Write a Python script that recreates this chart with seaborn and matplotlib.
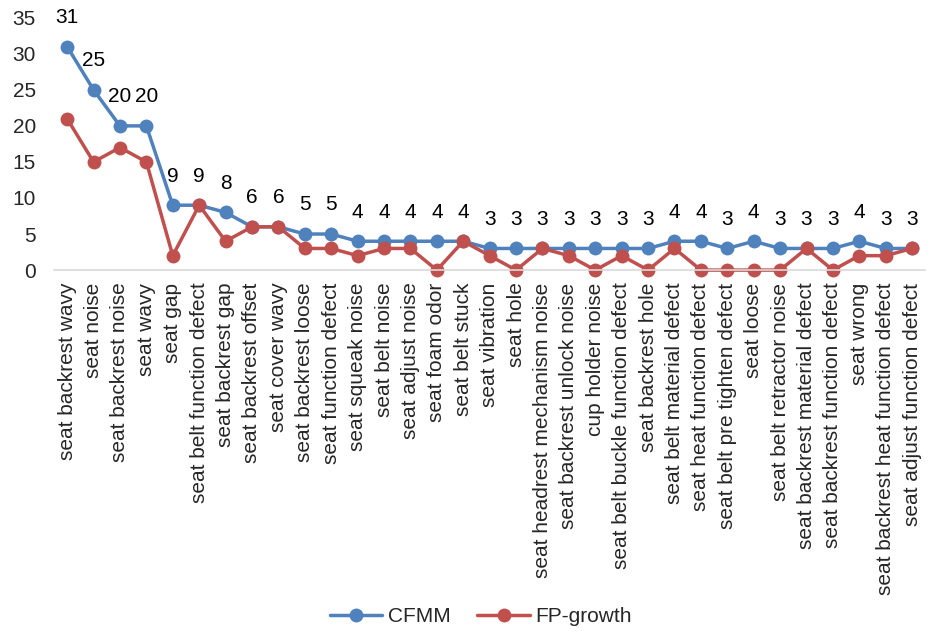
import matplotlib
matplotlib.use("Agg")
import matplotlib.pyplot as plt
import seaborn as sns
import pandas as pd

categories = [
    "seat backrest wavy", "seat noise", "seat backrest noise", "seat wavy",
    "seat gap", "seat belt function defect", "seat backrest gap",
    "seat backrest offset", "seat cover wavy", "seat backrest loose",
    "seat function defect", "seat squeak noise", "seat belt noise",
    "seat adjust noise", "seat foam odor", "seat belt stuck",
    "seat vibration", "seat hole", "seat headrest mechanism noise",
    "seat backrest unlock noise", "cup holder noise",
    "seat belt buckle function defect", "seat backrest hole",
    "seat belt material defect", "seat heat function defect",
    "seat belt pre tighten defect", "seat loose", "seat belt retractor noise",
    "seat backrest material defect", "seat backrest function defect",
    "seat wrong", "seat backrest heat function defect",
    "seat adjust function defect",
]
cfmm = [31, 25, 20, 20, 9, 9, 8, 6, 6, 5, 5, 4, 4, 4, 4, 4, 3, 3, 3, 3, 3,
        3, 3, 4, 4, 3, 4, 3, 3, 3, 4, 3, 3]
fp_growth = [21, 15, 17, 15, 2, 9, 4, 6, 6, 3, 3, 2, 3, 3, 0, 4, 2, 0, 3, 2,
             0, 2, 0, 3, 0, 0, 0, 0, 3, 0, 2, 2, 3]
series_names = ["CFMM", "FP-growth"]
y_ticks = [0, 5, 10, 15, 20, 25, 30, 35]

sns.set_theme(style="white")
plt.rcParams["font.family"] = ["Liberation Sans", "DejaVu Sans"]
FS = 15

df = pd.DataFrame({"category": categories * 2,
                   "value": cfmm + fp_growth,
                   "series": [series_names[0]] * len(categories)
                   + [series_names[1]] * len(categories)})
df["category"] = pd.Categorical(df["category"], categories=categories, ordered=True)
df["pos"] = df["category"].cat.codes

fig = plt.figure(figsize=(9.3, 6.34), dpi=100)
ax = fig.add_axes([0.058, 0.574, 0.937, 0.398])

palette = {"CFMM": "#4F81BD", "FP-growth": "#C0504D"}
sns.lineplot(data=df, x="pos", y="value", hue="series", hue_order=series_names,
             palette=palette, marker="o", markersize=10, markeredgewidth=0,
             linewidth=2.5, ax=ax, legend=True)

# value labels above the CFMM line
for i, v in enumerate(cfmm):
    ax.annotate(str(v), (i, v), xytext=(0, 21), textcoords="offset points",
                ha="center", va="center", fontsize=FS, color="black")

ax.set_xlim(-0.5, len(categories) - 0.5)
ax.set_ylim(0, 35)
ax.set_yticks(y_ticks)
ax.set_yticklabels([str(t) for t in y_ticks], fontsize=FS)
ax.set_xticks(range(len(categories)))
ax.set_xticklabels(categories, rotation=90, fontsize=FS)
ax.tick_params(axis="both", length=0)
ax.tick_params(axis="x", pad=9)
ax.tick_params(axis="y", pad=13)
ax.set_xlabel("")
ax.set_ylabel("")
for side in ["top", "right", "left"]:
    ax.spines[side].set_visible(False)
ax.spines["bottom"].set_color("#D9D9D9")
ax.spines["bottom"].set_linewidth(1.2)
for ln in ax.get_lines():
    ln.set_clip_on(False)

handles, labels = ax.get_legend_handles_labels()
ax.legend_.remove()
fig.legend(handles, labels, loc="center", bbox_to_anchor=(0.517, 0.027), ncol=2,
           frameon=False, fontsize=FS, handlelength=2.5, columnspacing=1.3,
           handletextpad=0.25)

fig.savefig("out.png", dpi=100)
